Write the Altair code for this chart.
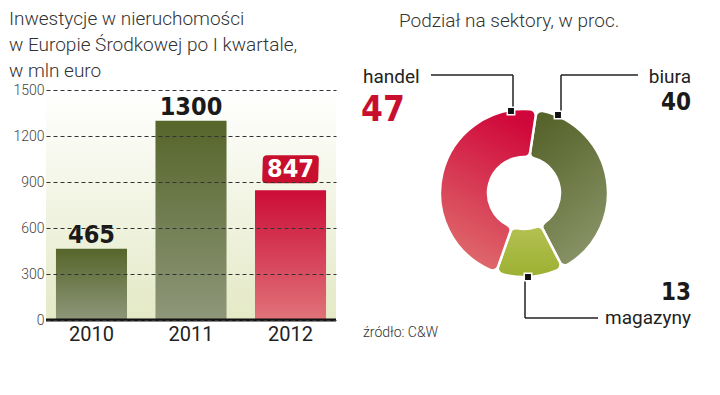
import math
import altair as alt
import pandas as pd

# ---------------- data ----------------
years = ["2010", "2011", "2012"]
values = [465, 1300, 847]
highlight = [False, False, True]

sectors = ["biura", "magazyny", "handel"]
shares = [40, 13, 47]
sector_order = [0, 1, 2]

y_ticks = [0, 300, 600, 900, 1200, 1500]

title_left = ["Inwestycje w nieruchomości", "w Europie Środkowej po I kwartale,", "w mln euro"]
title_right = "Podział na sektory, w proc."
source_note = "źródło: C&W"

bars_df = pd.DataFrame({"rok": years, "wartosc": values, "hl": highlight})
sect_df = pd.DataFrame({"sektor": sectors, "udzial": shares, "kolejnosc": sector_order})

# ---------------- styles ----------------
FONT_LIGHT = "Roboto"
FONT_NUM = "'DejaVu Sans Condensed', 'Liberation Sans Narrow', Roboto, sans-serif"
RED = "#c8102e"
W, H = 290, 230


def grad(c0, c1, x1=0, y1=0, x2=0, y2=1):
    return alt.LinearGradient(
        gradient="linear",
        stops=[alt.GradientStop(offset=0, color=c0), alt.GradientStop(offset=1, color=c1)],
        x1=x1, y1=y1, x2=x2, y2=y2,
    )


BADGE = ("M -0.83,-0.5 L 0.87,-0.5 Q 1.02,-0.5 1.01,-0.35 L 0.99,0.35 Q 0.98,0.5 0.83,0.5 "
         "L -0.87,0.5 Q -1.02,0.5 -1.01,0.35 L -0.99,-0.35 Q -0.98,-0.5 -0.83,-0.5 Z")

# ---------------- left: bar chart ----------------
x_enc = alt.X(
    "rok:N",
    scale=alt.Scale(paddingInner=0.286, paddingOuter=0.1),
    axis=alt.Axis(title=None, labelFontSize=20, labelColor="#222", labelFont=FONT_LIGHT,
                  ticks=False, domain=False, labelPadding=4, labelAngle=0),
)
y_enc = alt.Y(
    "wartosc:Q",
    scale=alt.Scale(domain=[0, 1500], nice=False),
    axis=alt.Axis(title=None, values=y_ticks, format="d", grid=True, gridDash=[4, 3],
                  gridColor="#333", gridOpacity=1, ticks=False, domain=False, labelFontSize=14,
                  labelColor="#444", labelPadding=2, labelFont=FONT_LIGHT, labelFontWeight=300,
                  zindex=1),
)

base = alt.Chart(bars_df)
background = base.transform_filter("datum.hl").mark_rect(
    color=grad("#ffffff", "#e4e9c6")
).encode(x=alt.value(0), x2=alt.value(W), y=alt.datum(y_ticks[-1]), y2=alt.datum(y_ticks[0]))
green_bars = base.transform_filter("!datum.hl").mark_bar(
    color=grad("#56652a", "#8e977a")).encode(x=x_enc, y=y_enc)
red_bars = base.transform_filter("datum.hl").mark_bar(
    color=grad("#cc0c36", "#e0737a")).encode(x=x_enc, y=y_enc)
green_labels = base.transform_filter("!datum.hl").mark_text(
    font=FONT_NUM, fontWeight="bold", fontSize=25, color="#1a1a1a", baseline="middle", dy=-14
).encode(x=x_enc, y=y_enc, text="wartosc:Q")
badge = base.transform_filter("datum.hl").mark_point(
    shape=BADGE, filled=True, size=3136, color=RED, opacity=1, yOffset=-21
).encode(x=x_enc, y=y_enc)
badge_text = base.transform_filter("datum.hl").mark_text(
    font=FONT_NUM, fontWeight="bold", fontSize=25, color="white", baseline="middle", dy=-21
).encode(x=x_enc, y=y_enc, text="wartosc:Q")
baseline = base.transform_filter("datum.hl").mark_rule(color="#111", strokeWidth=3).encode(
    y=alt.datum(0))

left = alt.layer(background, green_bars, red_bars, green_labels, badge, badge_text,
                 baseline).properties(
    width=W, height=H,
    title=alt.TitleParams(text=title_left, anchor="start", fontSize=19, font=FONT_LIGHT,
                          fontWeight=300, color="#333", lineHeight=26, offset=2, dx=-4),
)

# ---------------- right: sector ring ----------------
CX, CY = 173, 103
rot = 0.15
theta_scale = alt.Scale(domain=[0, 100], range=[rot, rot + 2 * math.pi])

arc_base = alt.Chart(sect_df).transform_window(
    koniec="sum(udzial)", sort=[alt.SortField("kolejnosc")]
).transform_calculate(poczatek="datum.koniec - datum.udzial")

sector_grads = {
    "handel": grad("#d0073a", "#df6e6e", x1=0.6, y1=0, x2=0.3, y2=1),
    "biura": grad("#56632a", "#8b9569", x1=0.3, y1=0, x2=0.7, y2=1),
    "magazyny": grad("#b3c152", "#9db032"),
}
arcs = [
    arc_base.transform_filter(alt.datum.sektor == s).mark_arc(
        innerRadius=36, outerRadius=84, cornerRadius=6, stroke="white", strokeWidth=2.5,
        color=sector_grads[s],
    ).encode(theta=alt.Theta("poczatek:Q", scale=theta_scale), theta2="koniec:Q",
             x=alt.value(CX), y=alt.value(CY))
    for s in sectors
]


def one(s):
    return alt.Chart(sect_df).transform_filter(alt.datum.sektor == s)


def rule(s, x, x2, y, y2):
    return one(s).mark_rule(color="#222", strokeWidth=1.5).encode(
        x=alt.value(x), x2=alt.value(x2), y=alt.value(y), y2=alt.value(y2))


def sq(s, x, y):
    return one(s).mark_point(shape="square", filled=True, color="#111", size=55, opacity=1,
                             stroke="white", strokeWidth=1.5).encode(x=alt.value(x), y=alt.value(y))


leaders = [
    rule("handel", 80, 162, -15, -15), rule("handel", 162, 162, -15, 20),
    rule("biura", 210, 287, -15, -15), rule("biura", 210, 210, -15, 24),
    rule("magazyny", 174, 174, 186, 228), rule("magazyny", 174, 247, 228, 228),
    sq("handel", 160, 21), sq("biura", 207, 25), sq("magazyny", 177, 187),
]


def label(s, field, x, y, align, size, weight, color, font):
    return one(s).mark_text(align=align, baseline="alphabetic", fontSize=size, fontWeight=weight,
                            color=color, font=font).encode(
        text=field, x=alt.value(x), y=alt.value(y))


texts = [
    label("handel", "sektor:N", 12, -7, "left", 19, 400, "#222", FONT_LIGHT),
    label("handel", "udzial:Q", 10, 31, "left", 35, "bold", RED, FONT_NUM),
    label("biura", "sektor:N", 340, -7, "right", 19, 400, "#222", FONT_LIGHT),
    label("biura", "udzial:Q", 340, 20, "right", 24, "bold", "#1a1a1a", FONT_NUM),
    label("magazyny", "udzial:Q", 340, 210, "right", 24, "bold", "#1a1a1a", FONT_NUM),
    label("magazyny", "sektor:N", 340, 234, "right", 19, 400, "#222", FONT_LIGHT),
    one("handel").mark_text(align="left", baseline="alphabetic", fontSize=19, fontWeight=300,
                            color="#333", font=FONT_LIGHT, text=title_right).encode(
        x=alt.value(48), y=alt.value(-63)),
    one("handel").mark_text(align="left", baseline="alphabetic", fontSize=14, fontWeight=300,
                            color="#333", font=FONT_LIGHT, text=source_note).encode(
        x=alt.value(12), y=alt.value(247)),
]

right = alt.layer(*arcs, *leaders, *texts).properties(width=350, height=H)

chart = alt.hconcat(left, right, spacing=13).properties(
    padding={"left": 0, "top": 2, "right": 0, "bottom": 0}, background="white"
).configure_view(stroke=None)

chart.save("out.html", embed_options={"renderer": "svg", "actions": False})
